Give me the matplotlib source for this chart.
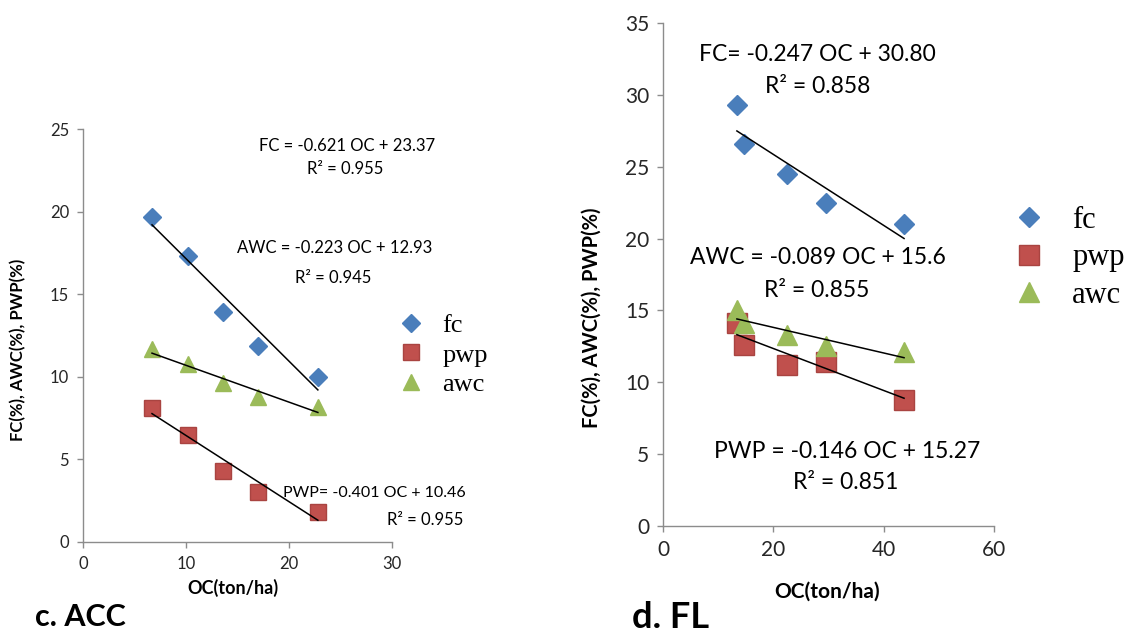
import numpy as np
import matplotlib.pyplot as plt

# ---------------- data ----------------
# c. ACC
acc_oc = [6.7, 10.2, 13.6, 17.0, 22.8]
acc_fc = [19.7, 17.3, 13.9, 11.9, 10.0]
acc_pwp = [8.1, 6.5, 4.3, 3.0, 1.8]
acc_awc = [11.7, 10.8, 9.6, 8.8, 8.2]
# trendline coefficients (slope, intercept) printed on the chart
acc_fit = {"fc": (-0.621, 23.37), "pwp": (-0.401, 10.46), "awc": (-0.223, 12.93)}

# d. FL
fl_oc = [13.4, 14.7, 22.5, 29.6, 43.7]
fl_fc = [29.3, 26.6, 24.5, 22.5, 21.0]
fl_pwp = [14.1, 12.6, 11.2, 11.4, 8.8]
fl_awc = [15.0, 14.1, 13.3, 12.5, 12.1]
fl_fit = {"fc": (-0.247, 30.80), "pwp": (-0.146, 15.27), "awc": (-0.089, 15.6)}

colors = {"fc": "#4a7ebb", "pwp": "#c0504d", "awc": "#9bbb59"}
edges = {"fc": "#4a7ebb", "pwp": "#a94441", "awc": "#9bbb59"}
markers = {"fc": "D", "pwp": "s", "awc": "^"}

SANS = "Lato"
SERIF = "Liberation Serif"

fig = plt.figure(figsize=(11.37, 6.35), dpi=100)
ax1 = fig.add_axes([0.073, 0.1465, 0.2718, 0.650])
ax2 = fig.add_axes([0.5831, 0.1717, 0.2911, 0.792])


def style_axes(ax, xlim, xticks, ylim, yticks, fs):
    ax.set_xlim(*xlim)
    ax.set_ylim(*ylim)
    ax.set_xticks(xticks)
    ax.set_yticks(yticks)
    for s in ["top", "right"]:
        ax.spines[s].set_visible(False)
    for s in ["left", "bottom"]:
        ax.spines[s].set_color("#8c8c8c")
        ax.spines[s].set_linewidth(1.0)
    ax.tick_params(direction="out", length=4, width=1.0, color="#8c8c8c",
                   labelcolor="#262626", labelsize=fs, pad=6)
    for lab in ax.get_xticklabels() + ax.get_yticklabels():
        lab.set_fontfamily(SANS)


def draw_panel(ax, oc, series, fits, msize):
    oc = np.array(oc)
    handles = []
    for key in ["fc", "pwp", "awc"]:
        h, = ax.plot(oc, series[key], linestyle="none", marker=markers[key],
                     markersize=msize[key], markerfacecolor=colors[key],
                     markeredgecolor=edges[key], markeredgewidth=1.0,
                     label=key, zorder=3)
        handles.append(h)
    for key in ["fc", "pwp", "awc"]:
        m, b = fits[key]
        xs = np.array([oc.min(), oc.max()])
        ax.plot(xs, m * xs + b, color="black", linewidth=1.1, zorder=4)
    return handles


# ---------------- left panel: c. ACC ----------------
style_axes(ax1, (0, 30), [0, 10, 20, 30], (0, 25), [0, 5, 10, 15, 20, 25], 12)
h1 = draw_panel(ax1, acc_oc, {"fc": acc_fc, "pwp": acc_pwp, "awc": acc_awc},
                acc_fit, {"fc": 9, "pwp": 11, "awc": 11})
tfs = 12
ax1.text(25.6, 24.0, "FC = -0.621 OC + 23.37", ha="center", va="center",
         fontsize=tfs, family=SANS)
ax1.text(25.5, 22.6, "R² = 0.955", ha="center", va="center", fontsize=tfs, family=SANS)
ax1.text(24.4, 17.8, "AWC = -0.223 OC + 12.93", ha="center", va="center",
         fontsize=tfs, family=SANS)
ax1.text(24.3, 16.0, "R² = 0.945", ha="center", va="center", fontsize=tfs, family=SANS)
ax1.text(28.3, 2.97, "PWP= -0.401 OC + 10.46", ha="center", va="center",
         fontsize=11.5, family=SANS, clip_on=False)
ax1.text(33.2, 1.33, "R² = 0.955", ha="center", va="center", fontsize=tfs,
         family=SANS, clip_on=False)

leg1 = fig.legend(handles=h1, labels=["fc", "pwp", "awc"], loc="center left",
                  bbox_to_anchor=(0.327, 0.441), frameon=False,
                  prop={"family": SERIF, "size": 19}, handletextpad=0.57,
                  labelspacing=0.22, handlelength=1.2)

# ---------------- right panel: d. FL ----------------
style_axes(ax2, (0, 60), [0, 20, 40, 60], (0, 35), [0, 5, 10, 15, 20, 25, 30, 35], 15)
h2 = draw_panel(ax2, fl_oc, {"fc": fl_fc, "pwp": fl_pwp, "awc": fl_awc},
                fl_fit, {"fc": 10, "pwp": 15, "awc": 15})
rfs = 16.5
ax2.text(28.0, 32.8, "FC= -0.247 OC + 30.80", ha="center", va="center",
         fontsize=rfs, family=SANS)
ax2.text(28.0, 30.6, "R² = 0.858", ha="center", va="center", fontsize=rfs, family=SANS)
ax2.text(28.0, 18.65, "AWC = -0.089 OC + 15.6", ha="center", va="center",
         fontsize=rfs, family=SANS)
ax2.text(27.9, 16.4, "R² = 0.855", ha="center", va="center", fontsize=rfs, family=SANS)
ax2.text(33.3, 5.15, "PWP = -0.146 OC + 15.27", ha="center", va="center",
         fontsize=rfs, family=SANS)
ax2.text(33.1, 3.0, "R² = 0.851", ha="center", va="center", fontsize=rfs, family=SANS)

leg2 = fig.legend(handles=h2, labels=["fc", "pwp", "awc"], loc="center left",
                  bbox_to_anchor=(0.865, 0.594), frameon=False,
                  prop={"family": SERIF, "size": 22}, handletextpad=0.8,
                  labelspacing=0.28, handlelength=1.2)

# ---------------- axis titles and panel labels ----------------
fig.text(0.016, 1 - 350 / 635, "FC(%), AWC(%), PWP(%)", rotation=90,
         ha="center", va="center", fontsize=12, fontweight="bold", family=SANS)
fig.text(592 / 1137, 1 - 318 / 635, "FC(%), AWC(%), PWP(%)", rotation=90,
         ha="center", va="center", fontsize=14.5, fontweight="bold", family=SANS)
fig.text(233 / 1137, 1 - 588 / 635, "OC(ton/ha)", ha="center", va="center",
         fontsize=13, fontweight="bold", family=SANS)
fig.text(827 / 1137, 1 - 592 / 635, "OC(ton/ha)", ha="center", va="center",
         fontsize=15, fontweight="bold", family=SANS)
fig.text(35 / 1137, 1 - 617 / 635, "c. ACC", ha="left", va="center",
         fontsize=22, fontweight="bold", family=SANS)
fig.text(632 / 1137, 1 - 617 / 635, "d. FL", ha="left", va="center",
         fontsize=26, fontweight="bold", family=SANS)

fig.savefig("out.png", dpi=100, facecolor="white")
